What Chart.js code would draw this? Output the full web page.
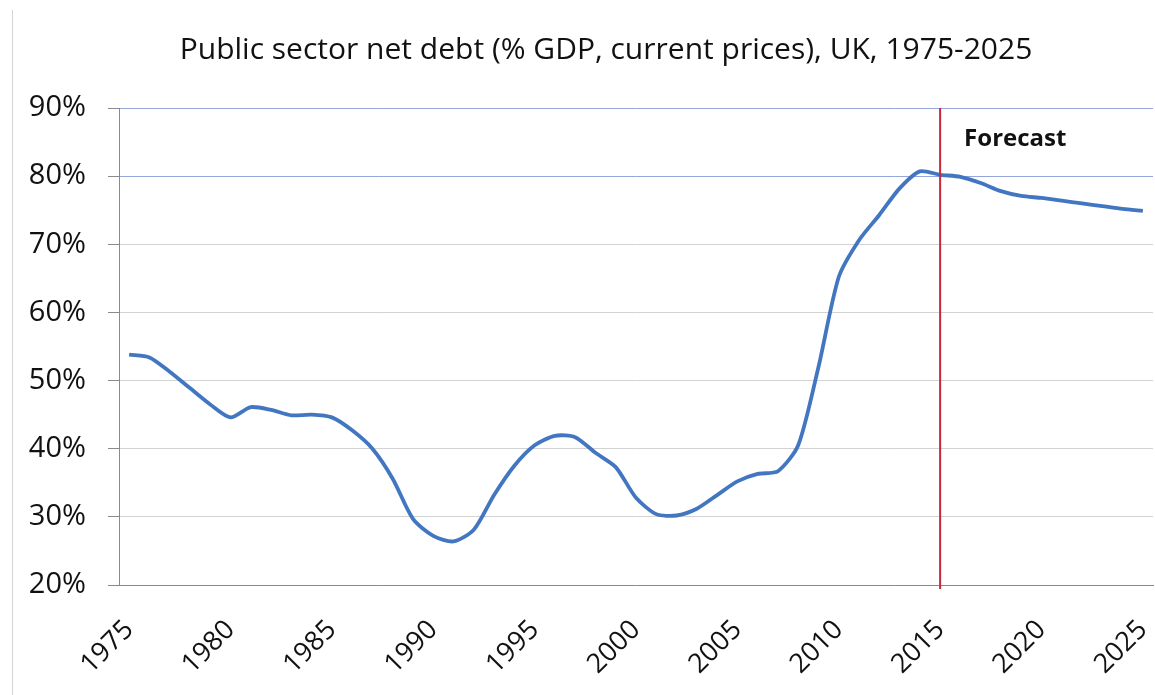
<!DOCTYPE html>
<html>
<head>
<meta charset="utf-8">
<script src="https://cdn.jsdelivr.net/npm/chart.js@4.4.0/dist/chart.umd.min.js"></script>
<style>
  body { margin: 0; background: #fff; }
  #wrap { width: 1155px; height: 695px; }
</style>
</head>
<body>
<div id="wrap"><canvas id="debtChart" width="1155" height="695"></canvas></div>
<script>
// PSND as % of GDP, outturn to 2014, forecast after
const years = [
  1975, 1976, 1977, 1978, 1979, 1980, 1981, 1982, 1983, 1984,
  1985, 1986, 1987, 1988, 1989, 1990, 1991, 1992, 1993, 1994,
  1995, 1996, 1997, 1998, 1999, 2000, 2001, 2002, 2003, 2004,
  2005, 2006, 2007, 2008, 2009, 2010, 2011, 2012, 2013, 2014,
  2015, 2016, 2017, 2018, 2019, 2020, 2021, 2022, 2023, 2024, 2025
];
const netDebt = [
  53.8, 53.4, 51.3, 48.9, 46.5, 44.6, 46.1, 45.7, 44.9, 45.0,
  44.6, 42.7, 40.0, 35.6, 29.7, 27.2, 26.4, 28.1, 33.2, 37.5,
  40.5, 41.9, 41.7, 39.4, 37.3, 32.8, 30.4, 30.2, 31.2, 33.2,
  35.2, 36.3, 36.7, 40.5, 52.0, 65.2, 70.6, 74.3, 78.2, 80.7,
  80.2, 79.9, 79.0, 77.8, 77.1, 76.8, 76.4, 76.0, 75.6, 75.2, 74.9
];
const yTicks = [20, 30, 40, 50, 60, 70, 80, 90];
const forecastFrom = 2015;
const titleText = 'Public sector net debt (% GDP, current prices), UK, 1975-2025';

const FONT = '"Open Sans", "DejaVu Sans", sans-serif';

// title drawn by hand so it can sit off-centre, plus the thin frame line on the left
const titlePlugin = {
  id: 'manualTitle',
  afterDraw(chart) {
    const ctx = chart.ctx;
    ctx.save();
    ctx.strokeStyle = '#d4d4d4';
    ctx.lineWidth = 1;
    ctx.beginPath();
    ctx.moveTo(12.5, 10);
    ctx.lineTo(12.5, 695);
    ctx.stroke();
    ctx.font = '30px ' + FONT;
    ctx.fillStyle = '#111';
    ctx.textAlign = 'center';
    ctx.textBaseline = 'middle';
    ctx.fillText(titleText, 606, 50);
    ctx.restore();
  }
};

// red divider + "Forecast" label
const forecastPlugin = {
  id: 'forecastLine',
  afterDatasetsDraw(chart) {
    const x = chart.scales.x.getPixelForValue(years.indexOf(forecastFrom));
    const area = chart.chartArea;
    const ctx = chart.ctx;
    ctx.save();
    ctx.strokeStyle = '#c8283c';
    ctx.lineWidth = 2;
    ctx.beginPath();
    ctx.moveTo(x, area.top);
    ctx.lineTo(x, area.bottom + 4);
    ctx.stroke();
    ctx.font = 'bold 24px ' + FONT;
    ctx.fillStyle = '#111';
    ctx.textBaseline = 'middle';
    ctx.fillText('Forecast', x + 24, area.top + 31);
    ctx.restore();
  }
};

new Chart(document.getElementById('debtChart'), {
  type: 'line',
  data: {
    labels: years.map(String),
    datasets: [{
      data: netDebt,
      borderColor: '#4276c0',
      borderWidth: 3.8,
      pointRadius: 0,
      tension: 0.25,
      fill: false
    }]
  },
  options: {
    responsive: false,
    animation: false,
    layout: { padding: { top: 108, right: 2, left: 0, bottom: 0 } },
    plugins: { legend: { display: false }, tooltip: { enabled: false } },
    scales: {
      x: {
        offset: true,
        grid: { display: false, drawTicks: false },
        border: { display: true, color: '#8a8a8a', width: 1 },
        afterFit(scale) {
          scale.height = 110;
          scale.paddingLeft = 0;
          scale.paddingRight = 0;
        },
        ticks: {
          autoSkip: false,
          minRotation: 45,
          maxRotation: 45,
          padding: 29,
          color: '#111',
          font: { family: FONT, size: 27 },
          callback(v, i) { return years[i] % 5 === 0 ? String(years[i]) : ''; }
        }
      },
      y: {
        min: yTicks[0],
        max: yTicks[yTicks.length - 1],
        afterFit(scale) { scale.width = 119; },
        afterBuildTicks(scale) { scale.ticks = yTicks.map(v => ({ value: v })); },
        grid: {
          color: ctx => (ctx.tick && ctx.tick.value >= 80 ? '#94a6dc' : '#d2d2d2'),
          tickColor: '#8a8a8a',
          tickLength: 11,
          lineWidth: 1
        },
        border: { display: true, color: '#8a8a8a', width: 1 },
        ticks: {
          padding: 22,
          color: '#111',
          font: { family: FONT, size: 29 },
          callback: v => v + '%'
        }
      }
    }
  },
  plugins: [titlePlugin, forecastPlugin]
});
</script>
</body>
</html>
